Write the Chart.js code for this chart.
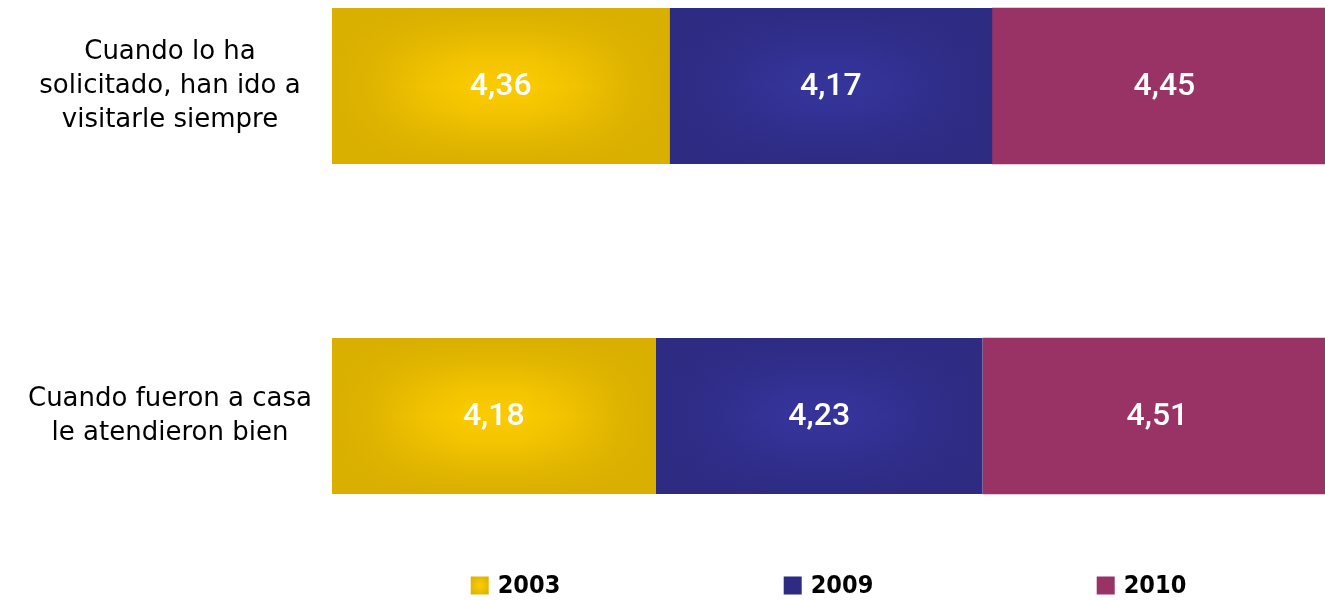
<!DOCTYPE html>
<html>
<head>
<meta charset="utf-8">
<script src="https://cdn.jsdelivr.net/npm/chart.js@4/dist/chart.umd.min.js"></script>
<style>
  html, body { margin: 0; padding: 0; background: #ffffff; }
  #wrap { width: 1325px; height: 600px; position: relative; }
</style>
</head>
<body>
<div id="wrap"><canvas id="c"></canvas></div>
<script>
// ---- data ----
const categories = [
  ['Cuando lo ha', 'solicitado, han ido a', 'visitarle siempre'],
  ['Cuando fueron a casa', 'le atendieron bien']
];
const seriesLabels = ['2003', '2009', '2010'];
const values2003 = [4.36, 4.18];
const values2009 = [4.17, 4.23];
const values2010 = [4.45, 4.51];
const axisMax = 12.83;

// ---- styles ----
const seriesStyles = [
  { edge: '#D9AF00', center: '#FBCB00', grad: true },
  { edge: '#2D2B82', center: '#35349B', grad: true },
  { edge: '#993366', center: '#993366', grad: false }
];
const BAR_H = 156;

function makePattern(ctx, x0, y0, w, h, st) {
  w = Math.max(1, Math.round(w)); h = Math.max(1, Math.round(h));
  const off = document.createElement('canvas');
  off.width = w; off.height = h;
  const o = off.getContext('2d');
  o.fillStyle = st.center;
  o.fillRect(0, 0, w, h);
  const hex = st.edge;
  const r = parseInt(hex.substr(1,2),16), g = parseInt(hex.substr(3,2),16), b = parseInt(hex.substr(5,2),16);
  const c = a => `rgba(${r},${g},${b},${a})`;
  const gh = o.createLinearGradient(0, 0, w, 0);
  gh.addColorStop(0, c(1)); gh.addColorStop(0.12, c(0.8)); gh.addColorStop(0.28, c(0.3));
  gh.addColorStop(0.42, c(0)); gh.addColorStop(0.58, c(0)); gh.addColorStop(0.72, c(0.3)); gh.addColorStop(0.88, c(0.8)); gh.addColorStop(1, c(1));
  o.fillStyle = gh; o.fillRect(0, 0, w, h);
  const gv = o.createLinearGradient(0, 0, 0, h);
  gv.addColorStop(0, c(1)); gv.addColorStop(0.15, c(0.7)); gv.addColorStop(0.35, c(0.2));
  gv.addColorStop(0.5, c(0)); gv.addColorStop(0.65, c(0.2)); gv.addColorStop(0.85, c(0.7)); gv.addColorStop(1, c(1));
  o.fillStyle = gv; o.fillRect(0, 0, w, h);
  const p = ctx.createPattern(off, 'no-repeat');
  p.setTransform(new DOMMatrix().translate(x0, y0));
  return p;
}

const seriesValues = [values2003, values2009, values2010];

function bg(dsIndex) {
  return function(context) {
    const st = seriesStyles[dsIndex];
    if (!st.grad || context.type !== 'data') return st.edge;
    const chart = context.chart;
    const xs = chart.scales.x, ys = chart.scales.y;
    if (!xs || !ys || !chart.chartArea) return st.edge;
    const i = context.dataIndex;
    let start = 0;
    for (let d = 0; d < dsIndex; d++) start += seriesValues[d][i];
    const end = start + seriesValues[dsIndex][i];
    const x0 = xs.getPixelForValue(start), x1 = xs.getPixelForValue(end);
    const yc = ys.getPixelForValue(i);
    return makePattern(chart.ctx, x0, yc - BAR_H / 2, x1 - x0, BAR_H, st);
  };
}

const valueLabelPlugin = {
  id: 'valueLabels',
  afterDatasetsDraw(chart) {
    const ctx = chart.ctx;
    ctx.save();
    ctx.font = '500 32px Roboto, "Open Sans", sans-serif';
    ctx.fillStyle = '#ffffff';
    ctx.textAlign = 'center';
    ctx.textBaseline = 'middle';
    chart.data.datasets.forEach((ds, d) => {
      const meta = chart.getDatasetMeta(d);
      meta.data.forEach((el, i) => {
        const v = ds.data[i];
        const txt = v.toFixed(2).replace('.', ',');
        ctx.fillText(txt, (el.x + el.base) / 2, el.y + 1);
      });
    });
    ctx.restore();
  }
};

const legendPlugin = {
  id: 'customLegend',
  afterDraw(chart) {
    const ctx = chart.ctx;
    const ca = chart.chartArea;
    const cx = (ca.left + ca.right) / 2;
    const spacing = 313;
    const yMid = 585.5;
    const box = 18, gap = 9;
    ctx.save();
    ctx.font = 'bold 25px "DejaVu Sans Condensed", "Liberation Sans Narrow", "Liberation Sans", sans-serif';
    ctx.textBaseline = 'middle';
    ctx.textAlign = 'left';
    seriesLabels.forEach((lab, k) => {
      const tw = ctx.measureText(lab).width;
      const total = box + gap + tw;
      const center = cx + (k - 1) * spacing;
      const x0 = center - total / 2;
      const st = seriesStyles[k];
      if (st.grad && k === 0) {
        const g = ctx.createRadialGradient(x0 + box/2, yMid, 1, x0 + box/2, yMid, box * 0.7);
        g.addColorStop(0, st.center); g.addColorStop(1, st.edge);
        ctx.fillStyle = g;
      } else {
        ctx.fillStyle = st.edge;
      }
      ctx.fillRect(x0, yMid - box / 2, box, box);
      ctx.fillStyle = '#000000';
      ctx.fillText(lab, x0 + box + gap, yMid + 1);
    });
    ctx.restore();
  }
};

const datasets = seriesLabels.map((lab, k) => ({
  label: lab,
  data: seriesValues[k],
  backgroundColor: bg(k),
  borderWidth: 0,
  barThickness: BAR_H,
  clip: false
}));

new Chart(document.getElementById('c'), {
  type: 'bar',
  data: { labels: categories, datasets },
  options: {
    indexAxis: 'y',
    responsive: true,
    maintainAspectRatio: false,
    animation: false,
    layout: { padding: { top: 86, bottom: 184, left: 0, right: 0 } },
    plugins: {
      legend: { display: false },
      tooltip: { enabled: false },
      title: { display: false }
    },
    scales: {
      x: {
        stacked: true,
        min: 0,
        max: axisMax,
        display: false
      },
      y: {
        stacked: true,
        offset: false,
        grid: { display: false, drawTicks: false },
        border: { display: false },
        afterFit(scale) { scale.width = 332; },
        ticks: {
          crossAlign: 'center',
          padding: 20,
          color: '#000000',
          font: { family: '"DejaVu Sans", sans-serif', size: 26, lineHeight: 1.31 }
        }
      }
    }
  },
  plugins: [valueLabelPlugin, legendPlugin]
});
</script>
</body>
</html>
